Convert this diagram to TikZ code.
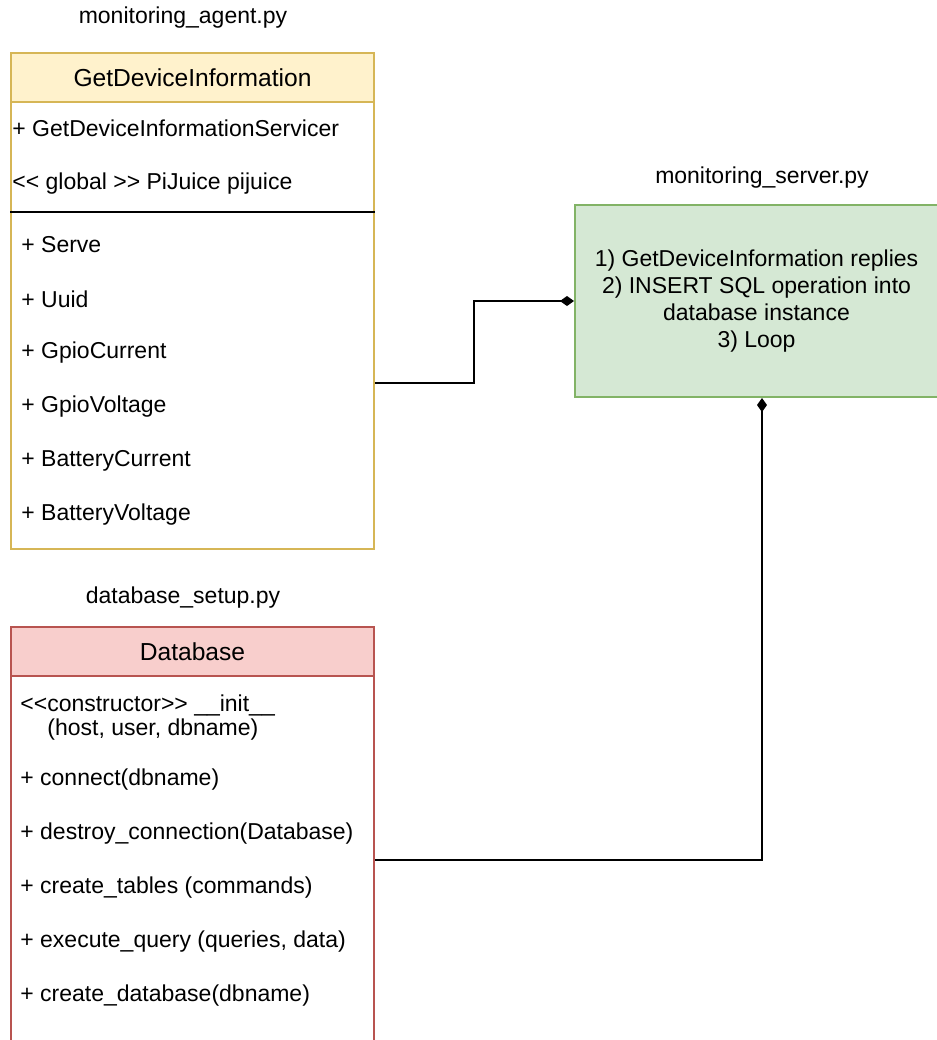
\documentclass[tikz,border=0pt]{standalone}
\usepackage{fontspec}
\setmainfont{Liberation Sans}
\usetikzlibrary{arrows.meta}

\definecolor{agentfill}{HTML}{FFF2CC}
\definecolor{agentline}{HTML}{D6B656}
\definecolor{srvfill}{HTML}{D5E8D4}
\definecolor{srvline}{HTML}{82B366}
\definecolor{dbfill}{HTML}{F8CECC}
\definecolor{dbline}{HTML}{B85450}

% two angle brackets without the guillemet ligature
\newcommand{\ltlt}{<\kern0pt<}
\newcommand{\gtgt}{>\kern0pt>}

\begin{document}
\begin{tikzpicture}[x=1pt,y=-1pt,font=\fontsize{11.5}{13.5}\selectfont,
  box/.style={draw, line width=1pt, inner sep=0pt, minimum width=181.5pt, anchor=north west},
  head/.style={box, minimum height=24.5pt, font=\fontsize{12.3}{14}\selectfont},
  item/.style={anchor=west, inner sep=0pt},
  comp/.style={line width=1pt, -{Diamond[length=7pt,width=5pt]}}]
\useasboundingbox (0,0) rectangle (468.5,520);

% monitoring agent
\node (agentfile) at (91.5,9) {monitoring\_agent.py};
\node[box, fill=white, draw=agentline, minimum height=248pt] (agent) at (5,26) {};
\node[head, fill=agentfill, draw=agentline] (agenthead) at (5,26) {GetDeviceInformation};
\node[item] (servicer) at (6,64) {+ GetDeviceInformationServicer};
\node[item] (pijuice) at (6,92) {\ltlt{} global \gtgt{} PiJuice pijuice};
\draw[line width=1pt] (agent.west |- 0,106) -- (agent.east |- 0,106);
\node[item] (serve) at (10.5,122.5) {+ Serve};
\node[item] (uuid) at (10.5,149.5) {+ Uuid};
\node[item] (gpiocur) at (10.5,176.5) {+ GpioCurrent};
\node[item] (gpiovolt) at (10.5,203.5) {+ GpioVoltage};
\node[item] (battcur) at (10.5,230.5) {+ BatteryCurrent};
\node[item] (battvolt) at (10.5,257.5) {+ BatteryVoltage};

% monitoring server
\node (serverfile) at (381,89) {monitoring\_server.py};
\node[box, fill=srvfill, draw=srvline, minimum height=96pt, align=center] (server) at (287,102)
  {1) GetDeviceInformation replies\\2) INSERT SQL operation into\\database instance\\3) Loop};

% database
\node (dbfile) at (91.5,299) {database\_setup.py};
\node[box, fill=white, draw=dbline, minimum height=240pt] (db) at (5,313) {};
\node[head, fill=dbfill, draw=dbline] (dbhead) at (5,313) {Database};
\node[item] (init) at (10,352.5) {\ltlt constructor\gtgt{} \_\_init\_\_};
\node[item] (initargs) at (23.5,365) {(host, user, dbname)};
\node[item] (connect) at (10,390) {+ connect(dbname)};
\node[item] (destroy) at (10,417) {+ destroy\_connection(Database)};
\node[item] (tables) at (10,444) {+ create\_tables (commands)};
\node[item] (query) at (10,471) {+ execute\_query (queries, data)};
\node[item] (createdb) at (10,498) {+ create\_database(dbname)};

% connectors
\coordinate (agentout) at (agent.east |- 0,191.5);
\coordinate (dbout) at (db.east |- 0,430);
\draw[comp] (agentout) -| (server.west -| 237,0) -- (server.west);
\draw[comp] (dbout) -| (server.south -| 381,0);
\end{tikzpicture}
\end{document}
